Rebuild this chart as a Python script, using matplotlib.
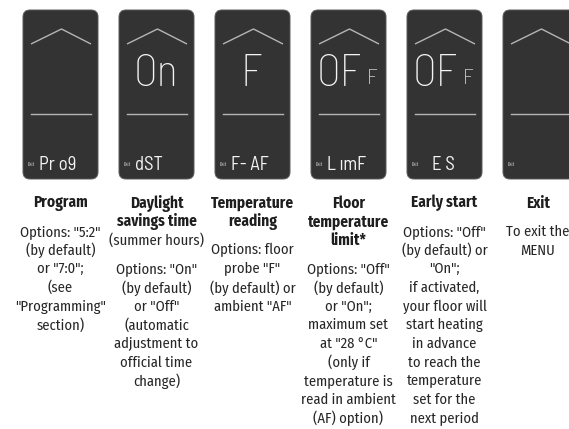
import matplotlib
matplotlib.use("Agg")
import matplotlib.pyplot as plt
from matplotlib.patches import FancyBboxPatch

# ---- content ----
big_text = ["", "On", "F", "OF", "OF", ""]
big_small = ["", "", "", "F", "F", ""]
bottom_codes = ["Pr o9", "dST", "F- AF", "L ımF", "E S", ""]
titles = [
    ["Program"],
    ["Daylight", "savings time"],
    ["Temperature", "reading"],
    ["Floor", "temperature", "limit*"],
    ["Early start"],
    ["Exit"],
]
subtitles = [[], ["(summer hours)"], [], [], [], []]
bodies = [
    ['Options: "5:2"', "(by default)", 'or "7:0";', "(see", '"Programming"', "section)"],
    ['Options: "On"', "(by default)", 'or "Off"', "(automatic", "adjustment to", "official time", "change)"],
    ["Options: floor", 'probe "F"', "(by default) or", 'ambient "AF"'],
    ['Options: "Off"', "(by default)", 'or "On";', "maximum set", 'at "28 °C"', "(only if",
     "temperature is", "read in ambient", "(AF) option)"],
    ['Options: "Off"', "(by default) or", '"On";', "if activated,", "your floor will",
     "start heating", "in advance", "to reach the", "temperature", "set for the", "next period"],
    ["To exit the", "MENU"],
]

W, H = 569, 429
fig = plt.figure(figsize=(W / 100, H / 100), dpi=100)
ax = fig.add_axes([0, 0, 1, 1])
ax.set_xlim(0, W)
ax.set_ylim(H, 0)
ax.axis("off")

narrow = ["Fira Sans Condensed", "Archivo Narrow", "DejaVu Sans"]
seg = ["Barlow Semi Condensed", "Barlow Condensed", "DejaVu Sans"]
panel_col = "#333333"
line_col = "#b5b5b5"
digit_col = "#f4f4f4"
text_col = "#262626"

left0, step, pw, top, bot = 23, 96, 75, 10, 179
lh = 18.7
for i in range(6):
    L = left0 + i * step
    cx = L + pw / 2
    tx = cx if i < 5 else cx - 2.5
    p = FancyBboxPatch((L, top), pw, bot - top,
                       boxstyle="round,pad=0,rounding_size=7",
                       fc=panel_col, ec="#5a5a5a", lw=0.7)
    ax.add_patch(p)
    # chevron
    ax.plot([L + 8, cx + 1, L + pw - 7], [44, 29, 44], color=line_col, lw=1.0,
            solid_capstyle="butt")
    # horizontal line
    ax.plot([L + 8, L + pw - 7], [114, 114], color=line_col, lw=1.0)
    # Exit small
    ax.text(L + 5, 164, "Exit", color="#cccccc", fontsize=3.5, ha="left", va="center",
            family=narrow)
    # big text
    if big_text[i]:
        if big_small[i]:
            ax.text(L + 6, 86, big_text[i], color=digit_col, fontsize=32, ha="left",
                    va="baseline", family=seg, fontweight="light")
            ax.text(L + 56, 84, big_small[i], color=digit_col, fontsize=16, ha="left",
                    va="baseline", family=seg, fontweight="light")
        else:
            ax.text(cx - 1, 86, big_text[i], color=digit_col, fontsize=32, ha="center",
                    va="baseline", family=seg, fontweight="light")
    if bottom_codes[i]:
        ax.text(L + (16 if i != 4 else 25), 170, bottom_codes[i], color=digit_col,
                fontsize=13.5, ha="left", va="baseline", family=seg)
    # captions
    y = 203
    for t in titles[i]:
        ax.text(tx, y, t, ha="center", va="center", fontsize=11, fontweight="bold",
                color="#1e1e1e", family=narrow)
        y += lh
    for t in subtitles[i]:
        ax.text(tx, y, t, ha="center", va="center", fontsize=10.5,
                color=text_col, family=narrow)
        y += lh
    y += 10
    for t in bodies[i]:
        ax.text(tx, y, t, ha="center", va="center", fontsize=10.5,
                color=text_col, family=narrow)
        y += lh

fig.savefig("out.png", dpi=100)
